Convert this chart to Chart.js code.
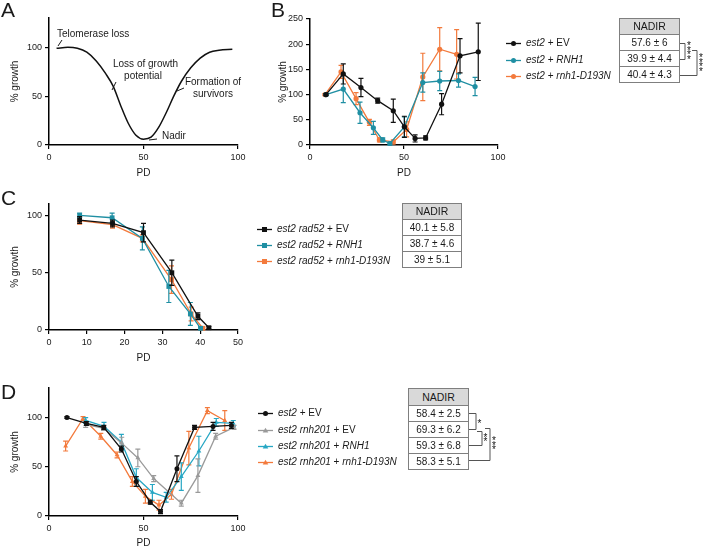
<!DOCTYPE html>
<html>
<head>
<meta charset="utf-8">
<script src="https://cdn.jsdelivr.net/npm/chart.js@4.4.1/dist/chart.umd.min.js"></script>
<style>
  body { margin: 0; width: 704px; height: 547px; position: relative; background: #fff; overflow: hidden;
         font-family: "Liberation Sans", Arial, sans-serif; color: #1a1a1a; }
  canvas { position: absolute; }
  .letter { position: absolute; font-size: 21px; line-height: 21px; }
  .note { position: absolute; font-size: 10px; line-height: 12px; white-space: nowrap; }
  .leg { position: absolute; font-size: 10px; line-height: 12px; white-space: nowrap; }
  .leg svg { vertical-align: -1px; margin-right: 5px; }
  .cell { position: absolute; box-sizing: border-box; border: 1px solid #7f7f7f; text-align: center;
          font-size: 10px; }
  .head { background: #d9d9d9; font-size: 10.5px; }
  .stars { position: absolute; font-size: 10px; line-height: 4.5px; text-align: center; width: 6px; color: #111; }
  #overlay { position: absolute; left: 0; top: 0; }
</style>
</head>
<body>

<canvas id="chartA" width="250" height="180" style="left:0;top:0"></canvas>
<canvas id="chartB" width="240" height="180" style="left:270px;top:0"></canvas>
<canvas id="chartC" width="250" height="185" style="left:0;top:185px"></canvas>
<canvas id="chartD" width="250" height="180" style="left:0;top:370px"></canvas>
<svg id="overlay" width="704" height="547"></svg>

<div class="letter" style="left:1px;top:-1px">A</div>
<div class="letter" style="left:271px;top:-1px">B</div>
<div class="letter" style="left:1px;top:187px">C</div>
<div class="letter" style="left:1px;top:381px">D</div>

<div class="note" style="left:57px;top:28px">Telomerase loss</div>
<div class="note" style="left:113px;top:58px;width:60px;text-align:center">Loss of growth<br>potential</div>
<div class="note" style="left:184px;top:76px;width:58px;text-align:center">Formation of<br>survivors</div>
<div class="note" style="left:162px;top:130px">Nadir</div>

<script>
const FONT = '"Liberation Sans", Arial, sans-serif';

// ---- Panel A: schematic curve
const A_PD = [4, 10, 15, 20, 25, 30, 34, 38, 42, 46, 50, 54, 58, 62, 66, 70, 75, 80, 85, 90, 97];
const A_GROWTH = [99, 100, 99, 95, 86, 73, 60, 40, 22, 10, 6, 8, 18, 33, 50, 65, 79, 89, 95, 97, 98];

// ---- Panel B: est2 senescence
const B_EV_PD = [8.5, 17.7, 27.1, 36, 44.3, 50.2, 55.9, 61.5, 70, 79.8, 89.5];
const B_EV_GROWTH = [100, 141, 114, 88, 68, 36, 13, 14, 81, 177, 185];
const B_EV_ERR = [2, 20, 18, 5, 23, 21, 7, 4, 21, 34, 57];
const B_RNH1_PD = [8.5, 17.7, 26.6, 33.7, 38.7, 42.5, 50.2, 60, 69, 79, 87.8];
const B_RNH1_GROWTH = [100, 111, 64, 34, 10, 3, 36, 124, 127, 128, 116];
const B_RNH1_ERR = [2, 27, 21, 13, 4, 3, 20, 19, 19, 13, 18];
const B_D193N_PD = [8, 16.5, 24.5, 31.6, 36.9, 44.3, 51.4, 60, 69, 78];
const B_D193N_GROWTH = [100, 145, 92, 45, 10, 6, 31, 135, 190, 180];
const B_D193N_ERR = [2, 13, 12, 6, 4, 4, 15, 47, 43, 49];
const B_NADIR = ['57.6 ± 6', '39.9 ± 4.4', '40.4 ± 4.3'];

// ---- Panel C: est2 rad52
const C_EV_PD = [8.1, 16.8, 25, 32.5, 39.4, 42.3];
const C_EV_GROWTH = [96, 93, 85, 50, 12, 2];
const C_EV_ERR = [3, 3, 8, 11, 3, 1];
const C_RNH1_PD = [8.1, 16.7, 24.7, 31.7, 37.4, 40.1];
const C_RNH1_GROWTH = [100, 98, 80, 38, 14, 1.5];
const C_RNH1_ERR = [2, 4, 10, 14, 10, 1];
const C_D193N_PD = [8.1, 16.8, 24.7, 32.4, 37.6, 40.7];
const C_D193N_GROWTH = [95.5, 92, 80, 44, 14, 1.5];
const C_D193N_ERR = [3, 3, 3, 12, 6, 1];
const C_NADIR = ['40.1 ± 5.8', '38.7 ± 4.6', '39 ± 5.1'];

// ---- Panel D: est2 rnh201
const D_EV_PD = [9.5, 19.8, 29, 38.3, 46.2, 53.6, 59, 67.7, 77, 86.8, 96.5];
const D_EV_GROWTH = [100, 94, 90, 68, 35, 14, 4.5, 48, 90, 91, 92];
const D_EV_ERR = [1, 2, 2, 3, 5, 2, 2, 13, 2, 4, 3];
const D_R201_PD = [19.4, 28.9, 38.5, 47, 55.4, 70, 78.8, 88.2, 97.9];
const D_R201_GROWTH = [93, 89, 74, 59, 38, 13, 41, 81, 90];
const D_R201_ERR = [3, 2, 6, 9, 3, 3, 17, 3, 2];
const D_RNH1_PD = [19.4, 29.1, 38.3, 46.2, 54.7, 62, 70, 79.3, 88.5, 97.5];
const D_RNH1_GROWTH = [97, 91, 75, 39, 24, 19, 40, 66, 95, 94];
const D_RNH1_ERR = [3, 4, 8, 9, 8, 5, 14, 15, 4, 3];
const D_D193N_PD = [8.8, 18, 27.4, 36, 44.1, 51, 58.2, 64.8, 74, 83.8, 93];
const D_D193N_GROWTH = [71, 99, 81, 62, 35, 20, 11, 22, 69, 107, 97];
const D_D193N_ERR = [5, 2, 3, 3, 5, 7, 5, 5, 17, 3, 10];
const D_NADIR = ['58.4 ± 2.5', '69.3 ± 6.2', '59.3 ± 6.8', '58.3 ± 5.1'];

// ticks
const PD_TICKS_100 = [0, 50, 100];
const PD_TICKS_50 = [0, 10, 20, 30, 40, 50];
const GROWTH_TICKS_100 = [0, 50, 100];
const GROWTH_TICKS_250 = [0, 50, 100, 150, 200, 250];

const BLACK = '#111111', TEAL = '#1f8fa3', ORANGE = '#f37a3c', GRAY = '#9a9a9a', CYAN = '#27a7c4';

const pts = (xs, ys) => xs.map((x, i) => ({ x, y: ys[i] }));

// vertical SEM bars, drawn through the chart's own scales
const errorBars = {
  id: 'errorBars',
  beforeDatasetDraw(chart, args) {
    const ds = chart.data.datasets[args.index];
    if (!ds.errors) return;
    const xs = chart.scales.x, ys = chart.scales.y, ctx = chart.ctx;
    ctx.save();
    ctx.strokeStyle = ds.borderColor;
    ctx.lineWidth = 1.2;
    ds.data.forEach((p, i) => {
      const e = ds.errors[i];
      if (!e) return;
      const x = xs.getPixelForValue(p.x);
      const lo = ys.getPixelForValue(Math.max(p.y - e, 0));
      const hi = ys.getPixelForValue(p.y + e);
      ctx.beginPath();
      ctx.moveTo(x, lo); ctx.lineTo(x, hi);
      ctx.moveTo(x - 2.5, lo); ctx.lineTo(x + 2.5, lo);
      ctx.moveTo(x - 2.5, hi); ctx.lineTo(x + 2.5, hi);
      ctx.stroke();
    });
    ctx.restore();
  }
};

function series(xs, ys, errs, color, shape, r) {
  return {
    data: pts(xs, ys), errors: errs, showLine: true,
    borderColor: color, backgroundColor: color, borderWidth: 1.3,
    pointStyle: shape, pointRadius: r, pointBorderWidth: 0,
    pointBackgroundColor: color, clip: false
  };
}

function scaleOpts(max, ticks, title, pad, fit) {
  return {
    type: 'linear', min: 0, max: max,
    afterBuildTicks: s => { s.ticks = ticks.map(v => ({ value: v })); },
    afterFit: fit,
    grid: { display: true, drawOnChartArea: false, drawTicks: true, tickLength: 4, color: '#000', lineWidth: 1.2 },
    border: { display: true, color: '#000', width: 1.5 },
    ticks: { color: '#1a1a1a', font: { family: FONT, size: 9 }, padding: 3, maxRotation: 0, autoSkip: false },
    title: { display: true, text: title, color: '#1a1a1a', font: { family: FONT, size: 10 }, padding: pad }
  };
}

function drawPanel(id, datasets, ax) {
  new Chart(document.getElementById(id), {
    type: 'scatter',
    data: { datasets: datasets },
    plugins: [errorBars],
    options: {
      responsive: false, animation: false, events: [],
      layout: { padding: ax.pad },
      plugins: { legend: { display: false }, tooltip: { enabled: false } },
      scales: {
        x: scaleOpts(ax.xMax, ax.xTicks, 'PD', { top: 0, bottom: ax.xTitlePad }, s => { s.height = ax.xH; }),
        y: scaleOpts(ax.yMax, ax.yTicks, '% growth', { top: ax.yTitlePad, bottom: 0 }, s => { s.width = ax.yW; })
      }
    }
  });
}

// Panel A
drawPanel('chartA', [{
  data: pts(A_PD, A_GROWTH), showLine: true, borderColor: BLACK, borderWidth: 1.5,
  pointRadius: 0, cubicInterpolationMode: 'monotone', clip: false
}], { pad: { top: 18, right: 12, left: 0, bottom: 0 }, xMax: 100, xTicks: PD_TICKS_100, yMax: 130,
      yTicks: GROWTH_TICKS_100, xH: 35, yW: 49, xTitlePad: 1, yTitlePad: 9 });

// Panel B
drawPanel('chartB', [
  series(B_EV_PD, B_EV_GROWTH, B_EV_ERR, BLACK, 'circle', 2.6),
  series(B_RNH1_PD, B_RNH1_GROWTH, B_RNH1_ERR, TEAL, 'circle', 2.6),
  series(B_D193N_PD, B_D193N_GROWTH, B_D193N_ERR, ORANGE, 'circle', 2.6)
], { pad: { top: 19, right: 12, left: 0, bottom: 0 }, xMax: 100, xTicks: PD_TICKS_100, yMax: 250,
     yTicks: GROWTH_TICKS_250, xH: 35, yW: 40, xTitlePad: 1, yTitlePad: 7 });

// Panel C
drawPanel('chartC', [
  series(C_EV_PD, C_EV_GROWTH, C_EV_ERR, BLACK, 'rect', 3.4),
  series(C_RNH1_PD, C_RNH1_GROWTH, C_RNH1_ERR, TEAL, 'rect', 3.4),
  series(C_D193N_PD, C_D193N_GROWTH, C_D193N_ERR, ORANGE, 'rect', 3.4)
], { pad: { top: 19, right: 12, left: 0, bottom: 0 }, xMax: 50, xTicks: PD_TICKS_50, yMax: 110,
     yTicks: GROWTH_TICKS_100, xH: 40, yW: 49, xTitlePad: 6, yTitlePad: 9 });

// Panel D
drawPanel('chartD', [
  series(D_EV_PD, D_EV_GROWTH, D_EV_ERR, BLACK, 'circle', 2.5),
  series(D_R201_PD, D_R201_GROWTH, D_R201_ERR, GRAY, 'triangle', 2.8),
  series(D_RNH1_PD, D_RNH1_GROWTH, D_RNH1_ERR, CYAN, 'triangle', 2.8),
  series(D_D193N_PD, D_D193N_GROWTH, D_D193N_ERR, ORANGE, 'triangle', 2.8)
], { pad: { top: 18, right: 12, left: 0, bottom: 0 }, xMax: 100, xTicks: PD_TICKS_100, yMax: 130,
     yTicks: GROWTH_TICKS_100, xH: 34, yW: 49, xTitlePad: 1, yTitlePad: 9 });

// ---- legends, NADIR tables, significance brackets
const B_LABELS = ['<i>est2</i> + EV', '<i>est2</i> + <i>RNH1</i>', '<i>est2</i> + <i>rnh1-D193N</i>'];
const C_LABELS = ['<i>est2 rad52</i> + EV', '<i>est2 rad52</i> + <i>RNH1</i>', '<i>est2 rad52</i> + <i>rnh1-D193N</i>'];
const D_LABELS = ['<i>est2</i> + EV', '<i>est2 rnh201</i> + EV', '<i>est2 rnh201</i> + <i>RNH1</i>', '<i>est2 rnh201</i> + <i>rnh1-D193N</i>'];

function symbol(color, shape) {
  let m;
  if (shape === 'circle') m = `<circle cx="7.5" cy="3.5" r="2.5" fill="${color}"/>`;
  else if (shape === 'rect') m = `<rect x="5" y="1" width="5" height="5" fill="${color}"/>`;
  else m = `<polygon points="7.5,0.8 10.3,5.6 4.7,5.6" fill="${color}"/>`;
  return `<svg width="15" height="7"><line x1="0" y1="3.5" x2="15" y2="3.5" stroke="${color}" stroke-width="1.3"/>${m}</svg>`;
}

function legend(left, ys, labels, colors, shapes) {
  labels.forEach((lab, i) => {
    const d = document.createElement('div');
    d.className = 'leg';
    d.style.left = left + 'px';
    d.style.top = (ys[i] - 6) + 'px';
    d.innerHTML = symbol(colors[i], shapes[i]) + lab;
    document.body.appendChild(d);
  });
}

function nadirTable(left, top, width, headH, rowH, values) {
  const add = (cls, t, h, txt) => {
    const c = document.createElement('div');
    c.className = cls;
    Object.assign(c.style, { left: left + 'px', top: t + 'px', width: width + 'px', height: (h + 1) + 'px',
                             lineHeight: (h - 1) + 'px' });
    c.textContent = txt;
    document.body.appendChild(c);
  };
  add('cell head', top, headH, 'NADIR');
  values.forEach((v, i) => add('cell', top + headH + i * rowH, rowH, v));
}

const svg = document.getElementById('overlay');
function seg(x1, y1, x2, y2, w) {
  const l = document.createElementNS('http://www.w3.org/2000/svg', 'line');
  l.setAttribute('x1', x1); l.setAttribute('y1', y1); l.setAttribute('x2', x2); l.setAttribute('y2', y2);
  l.setAttribute('stroke', w ? '#1a1a1a' : '#555'); l.setAttribute('stroke-width', w || 1);
  svg.appendChild(l);
}
function stars(x, yc, n) {
  const d = document.createElement('div');
  d.className = 'stars';
  d.innerHTML = Array(n).fill('*').join('<br>');
  d.style.left = (x - 3) + 'px';
  d.style.top = (yc - n * 2.25 + 2) + 'px';
  document.body.appendChild(d);
}

legend(506, [43, 60, 76], B_LABELS, [BLACK, TEAL, ORANGE], ['circle', 'circle', 'circle']);
nadirTable(619, 18, 61, 16, 16, B_NADIR);
seg(680, 43.5, 685, 43.5); seg(685, 43.5, 685, 59.5); seg(680, 59.5, 685, 59.5);
stars(689, 51, 4);
seg(692, 50.5, 697, 50.5); seg(697, 50.5, 697, 75.5); seg(680, 75.5, 697, 75.5);
stars(701, 63, 4);

legend(257, [229, 245, 261], C_LABELS, [BLACK, TEAL, ORANGE], ['rect', 'rect', 'rect']);
nadirTable(402, 203, 60, 16, 16, C_NADIR);

legend(258, [413, 430, 446, 462], D_LABELS, [BLACK, GRAY, CYAN, ORANGE], ['circle', 'triangle', 'triangle', 'triangle']);
nadirTable(408, 388, 61, 17, 16, D_NADIR);
seg(469, 413.5, 476, 413.5); seg(476, 413.5, 476, 429.5); seg(469, 429.5, 476, 429.5);
stars(479.5, 422, 1);
seg(477, 431.5, 482, 431.5); seg(482, 431.5, 482, 445.5); seg(469, 445.5, 482, 445.5);
stars(485.5, 438, 2);
seg(485, 428.5, 490, 428.5); seg(490, 428.5, 490, 460.5); seg(469, 460.5, 490, 460.5);
stars(494, 444, 3);

// leader lines for panel A annotations
seg(58, 46, 62, 40, 1); seg(112, 90, 116, 82, 1); seg(177, 91, 184, 88, 1); seg(149, 140, 157, 139, 1);
</script>
</body>
</html>
